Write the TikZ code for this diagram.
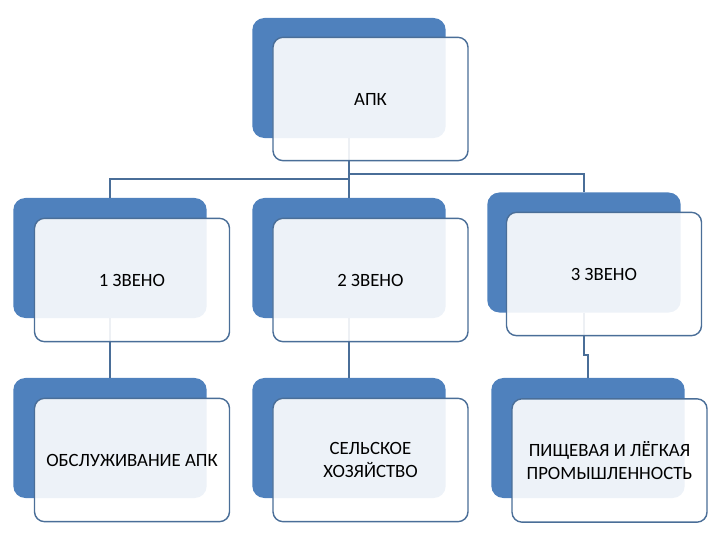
\documentclass[tikz,border=0pt]{standalone}
\usepackage{fontspec}
\setmainfont{Carlito}
\usepackage{tikz}
\usetikzlibrary{positioning, calc}
\definecolor{myblue}{HTML}{4F81BD}
\definecolor{myline}{HTML}{4A6E98}
\tikzset{
	backnode/.style={
			shape=rectangle,
			rounded corners=0.36cm,
			fill=myblue,
			draw=none,
			minimum width=5.8cm,
			minimum height=3.6cm,
			inner sep=0pt
		},
	frontnode/.style={
			shape=rectangle,
			rounded corners=0.3cm,
			draw=myline,
			line width=1.2pt,
			fill=white,
			fill opacity=0.9,
			text opacity=1,
			text=black,
			align=center,
			font=\fontsize{16}{19.5}\selectfont,
			minimum width=5.85cm,
			minimum height=3.7cm,
			inner sep=0pt
		},
	linknode/.style={
			draw=myline,
			line width=1.6pt
		}
}

\begin{document}
\begin{tikzpicture}[x=0.03cm, y=-0.03cm]

  \useasboundingbox (0,0) rectangle (720,540);

  \node[backnode] (b0) at (349,78) {};
  \node[backnode] (b1) at (110,258) {};
  \node[backnode] (b2) at (349,258) {};
  \node[backnode] (b3) at (584,252.5) {};
  \node[backnode] (b4) at (110,438) {};
  \node[backnode] (b5) at (349,438) {};
  \node[backnode] (b6) at (588,438) {};

  \draw[linknode] (b0.south) -- ++(0,41) -| (b1.north);
  \draw[linknode] (b0.south) -- (b2.north);
  \draw[linknode] (b0.south) -- ++(0,36) -| (b3.north);
  \draw[linknode] (b1.south) -- (b4.north);
  \draw[linknode] (b2.south) -- (b5.north);
  \draw[linknode] (b3.south) -- ++(0,42.5) -| (b6.north);

  \node[frontnode] (f0) at (370.5,99) {АПК};
  \node[frontnode] (f1) at (132,280) {1 ЗВЕНО};
  \node[frontnode] (f2) at (370.5,280) {2 ЗВЕНО};
  \node[frontnode] (f3) at (604,274) {3 ЗВЕНО};
  \node[frontnode] (f4) at (132,460) {ОБСЛУЖИВАНИЕ АПК};
  \node[frontnode] (f5) at (370.5,460) {СЕЛЬСКОЕ\\ХОЗЯЙСТВО};
  \node[frontnode] (f6) at (609.5,460.5) {ПИЩЕВАЯ И ЛЁГКАЯ\\ПРОМЫШЛЕННОСТЬ};

\end{tikzpicture}
\end{document}
